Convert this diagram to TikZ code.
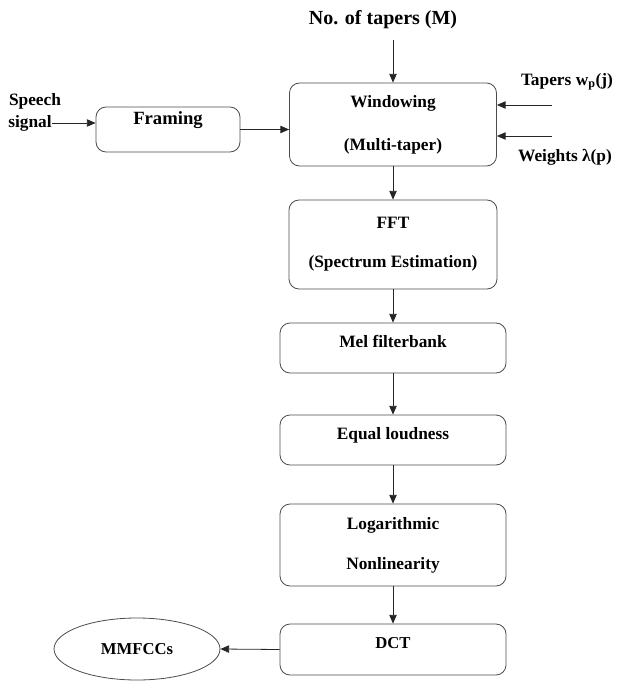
\documentclass[tikz,border=0pt]{standalone}
\usepackage{fontspec}
\setmainfont{Liberation Serif}
\usepackage{tikz}
\usetikzlibrary{positioning,arrows.meta,shapes.geometric}

\begin{document}
\begin{tikzpicture}[x=0.75pt, y=-0.75pt, font=\bfseries\fontsize{13}{15}\selectfont]
\tikzstyle{block}=[draw=black!70, line width=0.6pt, rounded corners=7.5pt,
                   minimum width=169.5pt, inner sep=0pt]
\tikzstyle{oneline}=[text height=9pt, text depth=10.5pt]
\tikzstyle{twoline}=[align=center, font=\bfseries\fontsize{13}{30}\selectfont]
\tikzstyle{txt}=[inner sep=0pt]
\tikzstyle{arr}=[-{Triangle[length=6.5pt,width=5.5pt]}, black!85, line width=0.6pt]
\useasboundingbox (0,0) rectangle (620,681);
% input side
\node[txt, font=\bfseries\fontsize{15}{17}\selectfont] (ntap) at (383,20) {No. of tapers (M)};
\node[txt] (speech) at (35,101) {Speech};
\node[txt] (signal) at (30,123) {signal};
\node[txt] (tapers) at (567,82) {Tapers w\textsubscript{p}(j)};
\node[txt] (weights) at (565,157) {Weights λ(p)};
\coordinate (mtop) at (393,40);
\coordinate (tapin) at (552,105);
\coordinate (wtin) at (552,136);
% processing chain
\node[block, oneline, minimum width=108pt, minimum height=33.75pt, text depth=17pt,
      font=\bfseries\fontsize{14}{16}\selectfont] (framing) at (168,129.5) {Framing};
\node[block, twoline, minimum width=155.25pt, minimum height=62.25pt] (window)
      at (393,124.5) {Windowing\\[2pt](Multi-taper)};
\node[block, twoline, minimum width=156pt, minimum height=66.75pt,
      font=\bfseries\fontsize{13}{29}\selectfont] (fft) at (393,244.5) {FFT\\(Spectrum Estimation)};
\node[block, oneline, minimum height=37.5pt] (mel) at (393,348) {Mel filterbank};
\node[block, oneline, minimum height=37.5pt] (equal) at (393,440) {Equal loudness};
\node[block, twoline, minimum height=61.5pt] (logn) at (393,545) {Logarithmic\\Nonlinearity};
\node[block, oneline, minimum height=38.25pt,
      font=\bfseries\fontsize{12.5}{15}\selectfont] (dct) at (393,649.5) {DCT};
\node[ellipse, draw=black!70, line width=0.6pt, minimum width=124.5pt, minimum height=46.5pt,
      inner sep=0pt, font=\bfseries\fontsize{12.5}{14}\selectfont] (mmfcc) at (137,649) {MMFCCs};
% connections
\draw[arr] (signal.east) -- (signal.east -| framing.west);
\draw[arr] (framing.east) -- (framing.east -| window.west);
\draw[arr] (mtop) -- (window.north);
\draw[arr] (tapin) -- (tapin -| window.east);
\draw[arr] (wtin) -- (wtin -| window.east);
\foreach \a/\b in {window/fft, fft/mel, mel/equal, equal/logn, logn/dct}
  \draw[arr] (\a.south) -- (\b.north);
\draw[arr] (dct.west) -- (mmfcc.east);
\end{tikzpicture}
\end{document}
